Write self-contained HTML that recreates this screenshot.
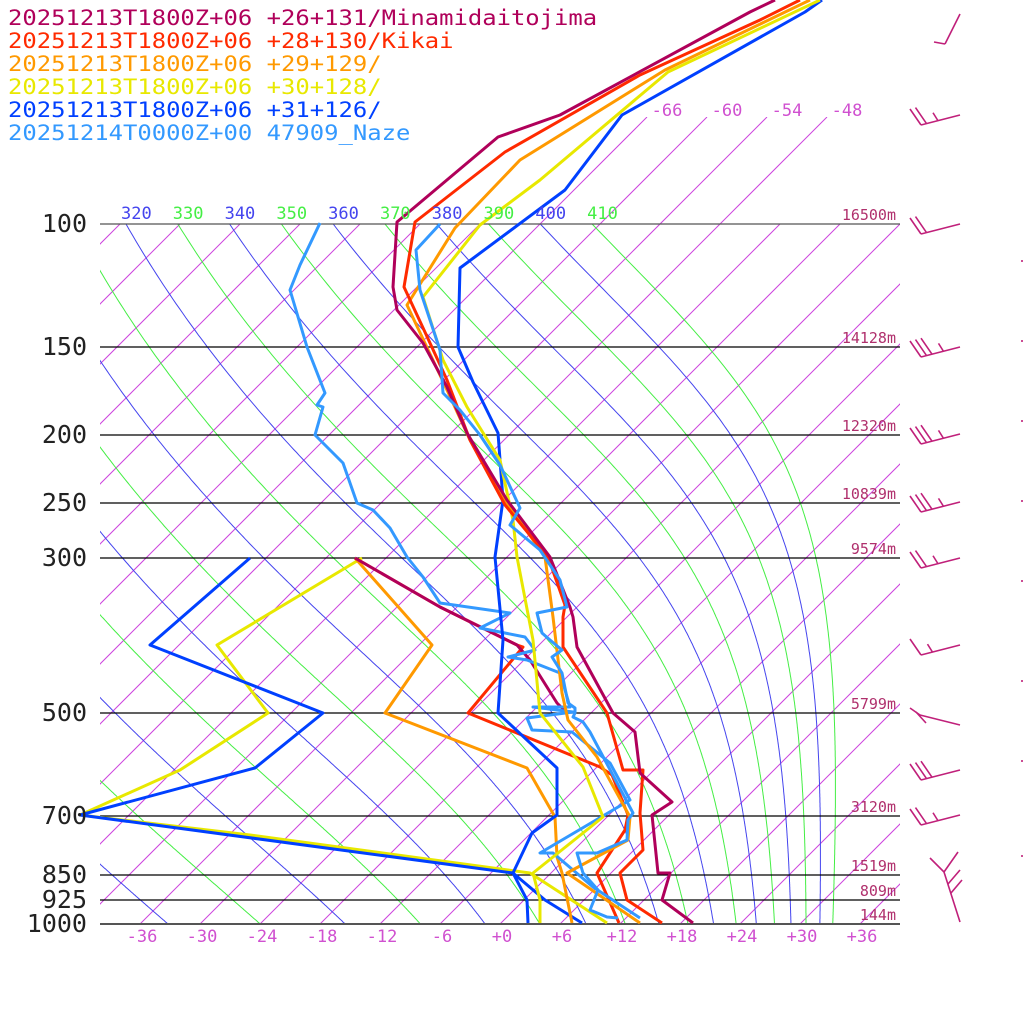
<!DOCTYPE html>
<html><head><meta charset="utf-8"><style>
html,body{margin:0;padding:0;background:#fff;width:1024px;height:1024px;overflow:hidden}
svg{display:block}
text{font-family:"DejaVu Sans Mono","Liberation Mono",monospace}
</style></head><body>
<svg id="s" width="1024" height="1024" viewBox="0 0 1024 1024" xmlns="http://www.w3.org/2000/svg">
<defs>
<clipPath id="cm"><rect x="100" y="224" width="800" height="700"/></clipPath>
<clipPath id="ct"><rect x="100" y="117" width="800" height="807"/></clipPath>
<clipPath id="cl"><rect x="98" y="195" width="802" height="30"/></clipPath>
</defs>
<g id="grid"></g>
<g id="data" fill="none" stroke-width="3" stroke-linejoin="round"></g>
<g id="lab"></g>
</svg>
<script>
(function(){
var NS="http://www.w3.org/2000/svg";
function el(par,tag,at,txt){var e=document.createElementNS(NS,tag);for(var k in at)e.setAttribute(k,at[k]);if(txt!==undefined)e.textContent=txt;par.appendChild(e);return e;}
var G=document.getElementById('grid'),D=document.getElementById('data'),L=document.getElementById('lab');
function Y(p){return 924-304*Math.log(1000/p);}
function X(T,y){return 500+10*T+(924-y);}
var gi=el(G,'g',{'clip-path':'url(#cm)',stroke:'#cc44dd','stroke-width':1});
var gt=el(G,'g',{'clip-path':'url(#ct)',stroke:'#cc44dd','stroke-width':1});
for(var T=-150;T<=42;T+=6){
  var ytop=(T>=-66&&T<=-48)?117:224;
  var g=(ytop==117)?gt:gi;
  el(g,'line',{x1:X(T,924),y1:924,x2:X(T,ytop),y2:ytop});
}
var ga=el(G,'g',{'clip-path':'url(#cm)',fill:'none','stroke-width':1});
function es(tc){return 6.112*Math.exp(17.67*tc/(tc+243.5));}
for(var th=200;th<=410;th+=10){
  var Tk=th*Math.pow(0.1,0.2857),p=100,pts=[];
  while(p<=1000.5){
    var yy=Y(p),tc=Tk-273.15;pts.push(X(tc,yy).toFixed(1)+','+yy.toFixed(1));
    var e=es(tc),rs=0.622*e/(p-e);
    var dTdp=(287*Tk+2.5e6*rs)/(p*(1004+2.5e6*2.5e6*rs*0.622/(287*Tk*Tk)));
    Tk+=dTdp*2;p+=2;
  }
  var col=((th/10)%2==1)?'#44ee44':'#4444ee';
  el(ga,'polyline',{points:pts.join(' '),stroke:col});
  var x100=X(th*Math.pow(0.1,0.2857)-273.15,224);
  if(x100>80&&x100<620) el(L,'text',{x:x100-5,y:219,fill:col,'font-size':17,'clip-path':'url(#cl)'},String(th));
}
var lv=[[100,'16500m'],[150,'14128m'],[200,'12320m'],[250,'10839m'],[300,'9574m'],[500,'5799m'],[700,'3120m'],[850,'1519m'],[925,'809m'],[1000,'144m']];
lv.forEach(function(a){var y=Math.round(Y(a[0]));
  el(G,'line',{x1:100,y1:y,x2:900,y2:y,stroke:a[0]==1000||a[0]==100?'#555':'#000','stroke-width':a[0]==1000?2:1.3});
  el(L,'text',{x:87,y:y+8,'font-size':25,fill:'#222','text-anchor':'end'},String(a[0]));
  el(L,'text',{x:896,y:y-4,'font-size':15,fill:'#b0306d','text-anchor':'end'},a[1]);
});
for(var t=-36;t<=36;t+=6){el(L,'text',{x:500+10*t+2,y:942,'font-size':17,fill:'#d050d0','text-anchor':'middle'},(t>=0?'+':'')+t);}
[-66,-60,-54,-48].forEach(function(t){el(L,'text',{x:X(t,115)+18,y:116,'font-size':17,fill:'#d050d0','text-anchor':'middle'},String(t));});
var lg=[['#b0005a','20251213T1800Z+06 +26+131/Minamidaitojima'],['#ff2a00','20251213T1800Z+06 +28+130/Kikai'],['#ff9900','20251213T1800Z+06 +29+129/'],['#e8e800','20251213T1800Z+06 +30+128/'],['#0040ff','20251213T1800Z+06 +31+126/'],['#3399ff','20251214T0000Z+00 47909_Naze']];
lg.forEach(function(a,i){el(L,'text',{x:8,y:25+i*23,'font-size':21,fill:a[0],textLength:a[1].length*14.37,lengthAdjust:'spacingAndGlyphs'},a[1]);});
function pl(c,pts){el(D,'polyline',{points:pts,stroke:c});}
pl('#e8e800','362,558 217,645 268,713 180,770 80,815 250,835 530,873 607,923');
pl('#0040ff','250,558 150,645 323,713 255,768 80,815 513,873 545,900 582,923');
pl('#ff9900','355,558 432,645 385,713 527,768 555,817 557,857 562,873 572,923');
pl('#ff2a00','355,558 440,607 517,645 523,647 468,713 600,767 612,775 628,815 625,830 597,873 619,923');
pl('#b0005a','355,558 440,607 517,645 530,660 557,703 567,713');
pl('#3399ff','320,223 300,265 290,290 307,347 325,393 317,405 323,407 315,435 343,463 357,503 373,510 390,528 407,557 423,577 440,603 510,613 480,628 525,637 535,650 508,657 527,660 560,673 570,707 533,707 573,712 527,718 532,730 572,732 610,763 630,800 613,810 540,853 553,853 593,887 640,918');
pl('#0040ff','822,0 805,12 622,115 565,190 460,268 458,347 473,382 498,433 503,500 495,557 503,640 498,713 557,768 557,815 532,833 513,873 527,900 528,923');
pl('#e8e800','820,0 668,72 540,180 480,225 423,297 443,360 467,407 500,460 513,520 517,557 533,640 540,713 583,767 603,817 533,873 540,900 540,923');
pl('#ff9900','810,0 665,70 520,160 455,228 407,305 447,390 470,440 505,500 545,557 553,617 562,693 568,720 597,757 630,817 628,840 567,873 640,923');
pl('#ff2a00','800,0 760,20 640,75 505,152 415,222 404,287 424,330 447,380 470,440 505,505 548,557 565,605 563,617 563,647 607,713 623,770 643,770 640,813 643,850 620,873 627,900 662,923');
pl('#b0005a','775,0 750,12 560,115 498,137 397,222 393,287 397,310 423,343 447,387 467,433 507,500 550,557 570,607 573,617 577,647 613,713 635,732 640,773 672,802 652,815 658,873 670,873 662,900 693,923');
pl('#3399ff','440,224 416,250 420,290 440,350 443,393 460,410 480,435 500,465 520,508 510,525 540,550 560,580 567,607 537,613 542,633 550,640 562,650 552,657 562,673 568,703 575,708 575,713 573,717 583,722 590,732 633,813 628,820 627,840 597,853 577,853 583,873 598,890 590,910 607,917 618,918');
var W=el(L,'g',{stroke:'#c0207a','stroke-width':1.6,fill:'none'});
function barb(y,n,half){
  el(W,'line',{x1:960,y1:y,x2:921,y2:y+10});
  for(var i=0;i<n;i++){var bx=921+i*5.5,by=y+10-i*1.4;el(W,'line',{x1:bx,y1:by,x2:bx-11,y2:by-16});}
  if(half){var hx=921+n*5.5+6,hy=y+10-(n*5.5+6)/4;el(W,'line',{x1:hx,y1:hy,x2:hx-5,y2:hy-8});}
}
barb(115,2,true);barb(224,2,false);barb(347,3,true);barb(434,3,true);barb(502,3,true);barb(558,2,true);barb(645,1,true);barb(770,3,false);barb(815,2,true);
el(W,'line',{x1:960,y1:14,x2:945,y2:44});el(W,'line',{x1:945,y1:44,x2:934,y2:42});
el(W,'line',{x1:960,y1:725,x2:920,y2:715});el(W,'line',{x1:920,y1:715,x2:910,y2:708});el(W,'line',{x1:926,y1:723,x2:916,y2:712});
el(W,'line',{x1:960,y1:922,x2:944,y2:872});el(W,'line',{x1:944,y1:872,x2:958,y2:852});el(W,'line',{x1:948,y1:884,x2:960,y2:870});el(W,'line',{x1:951,y1:893,x2:962,y2:880});el(W,'line',{x1:944,y1:872,x2:930,y2:858});
[260,340,420,500,580,680,760,855].forEach(function(y){el(W,'line',{x1:1022,y1:y,x2:1022,y2:y+2});});
})();
</script>
</body></html>
